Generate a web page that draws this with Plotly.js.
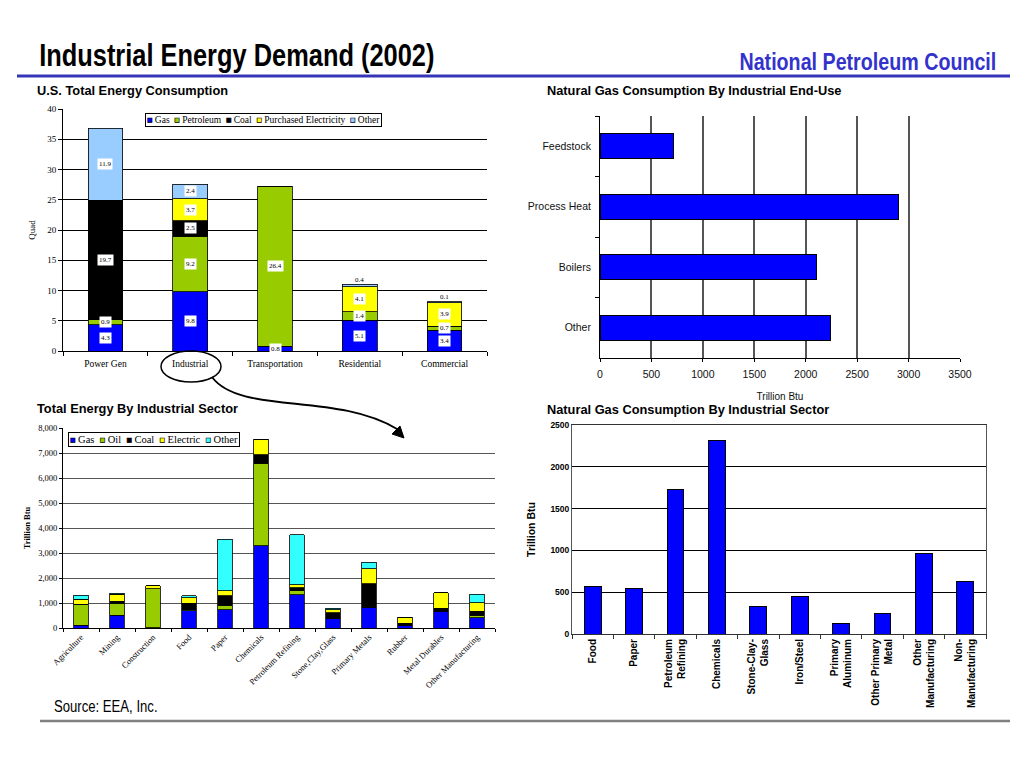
<!DOCTYPE html>
<html>
<head>
<meta charset="utf-8">
<script src="https://cdn.plot.ly/plotly-3.0.1.min.js"></script>
<style>html,body{margin:0;padding:0;background:#fff;}#chart{width:1024px;height:768px;}</style>
</head>
<body>
<div id="chart"></div>
<script>
// ---------- DATA ----------
const sectors = ['Power Gen', 'Industrial', 'Transportation', 'Residential', 'Commercial'];
const usGas = [4.3, 9.8, 0.8, 5.1, 3.4];
const usPetroleum = [0.9, 9.2, 26.4, 1.4, 0.7];
const usCoal = [19.7, 2.5, 0, 0, 0];
const usElectricity = [0, 3.7, 0, 4.1, 3.9];
const usOther = [11.9, 2.4, 0, 0.4, 0.1];

const endUses = ['Feedstock', 'Process Heat', 'Boilers', 'Other'];
const endUseGas = [715, 2900, 2100, 2240];

const industries = ['Agriculture', 'Mining', 'Construction', 'Food', 'Paper', 'Chemicals',
  'Petroleum Refining', 'Stone,Clay,Glass', 'Primary Metals', 'Rubber', 'Metal Durables', 'Other Manufacturing'];
const indGas = [110, 510, 20, 700, 740, 3300, 1340, 380, 840, 110, 670, 410];
const indOil = [820, 490, 1560, 30, 180, 3300, 150, 20, 30, 10, 20, 100];
const indCoal = [20, 80, 0, 270, 380, 330, 130, 210, 910, 80, 110, 170];
const indElectric = [210, 270, 110, 220, 200, 620, 110, 130, 590, 230, 620, 340];
const indOther = [150, 40, 10, 80, 2060, 0, 2010, 60, 260, 0, 0, 330];

const gasSectors = ['Food', 'Paper', 'Petroleum<br>Refining', 'Chemicals', 'Stone-Clay-<br>Glass', 'Iron/Steel',
  'Primary<br>Aluminum', 'Other Primary<br>Metal', 'Other<br>Manufacturing', 'Non-<br>Manufacturing'];
const gasSectorValues = [570, 550, 1730, 2320, 330, 450, 130, 240, 960, 630];

// ---------- STYLE ----------
const SERIF = 'Liberation Serif, Times New Roman, serif';
const SANS = 'Liberation Sans, Arial, sans-serif';
const W = 1024, H = 768;
const px = v => v / W;
const py = v => 1 - v / H;
const outline = {color: '#000', width: 0.8};

const traces = [];
// Chart 1
const usSeries = [
  ['Gas', usGas, '#0000ff'],
  ['Petroleum', usPetroleum, '#99cc00'],
  ['Coal', usCoal, '#000000'],
  ['Purchased Electricity', usElectricity, '#ffff00'],
  ['Other', usOther, '#99ccff']
];
usSeries.forEach(([name, vals, col]) => {
  traces.push({type: 'bar', name: name, x: sectors, y: vals, xaxis: 'x', yaxis: 'y',
    marker: {color: col, line: outline}, showlegend: false});
});
// Chart 2
traces.push({type: 'bar', orientation: 'h', x: endUseGas, y: endUses, xaxis: 'x2', yaxis: 'y2',
  marker: {color: '#0000ff', line: {color: '#000', width: 1}}, showlegend: false});
// Chart 3
const indSeries = [
  ['Gas', indGas, '#0000ff'],
  ['Oil', indOil, '#99cc00'],
  ['Coal', indCoal, '#000000'],
  ['Electric', indElectric, '#ffff00'],
  ['Other', indOther, '#33ffff']
];
indSeries.forEach(([name, vals, col]) => {
  traces.push({type: 'bar', name: name, x: industries, y: vals, xaxis: 'x3', yaxis: 'y3',
    marker: {color: col, line: outline}, showlegend: false});
});
// Chart 4
traces.push({type: 'bar', x: gasSectors, y: gasSectorValues, xaxis: 'x4', yaxis: 'y4',
  marker: {color: '#0000ff', line: {color: '#000', width: 1}}, showlegend: false});

// data labels chart 1 (derived from data)
const annotations = [];
sectors.forEach((s, i) => {
  let base = 0;
  const total = usSeries.reduce((a, sr) => a + sr[1][i], 0);
  usSeries.forEach((sr) => {
    const v = sr[1][i];
    if (v > 0) {
      const isTop = Math.abs(base + v - total) < 1e-9;
      if (v < 0.5 && isTop) {
        annotations.push({x: s, y: total + 0.75, xref: 'x', yref: 'y', text: v.toFixed(1), showarrow: false,
          font: {family: SERIF, size: 7, color: '#000'}});
      } else {
        annotations.push({x: s, y: base + v / 2, xref: 'x', yref: 'y', text: v.toFixed(1), showarrow: false,
          bgcolor: '#fff', borderpad: 1, font: {family: SERIF, size: 7, color: '#000'}});
      }
    }
    base += v;
  });
});

// compact legends built from the series definitions
const NB = '\u00a0';
function legendText(series) {
  return series.map(([n, , c]) =>
    '<span style="font-size:9px;color:' + c + ';stroke:#000;stroke-width:0.6px">■</span>' + NB + n
  ).join(NB + NB);
}
[[usSeries, 145, 113, 9.5], [indSeries, 68, 432, 10.5]].forEach(([ser, lx, ly, fs]) => {
  annotations.push({x: px(lx), y: py(ly), xref: 'paper', yref: 'paper', xanchor: 'left', yanchor: 'top',
    showarrow: false, align: 'left', text: legendText(ser), bgcolor: '#fff', bordercolor: '#000',
    borderwidth: 1, borderpad: 1, font: {family: SERIF, size: fs, color: '#000'}});
});

// text
const narrowIdx = [];
const txt = (x, y, t, font, anchor, narrow) => {
  if (narrow) narrowIdx.push([annotations.length, anchor || 'left']);
  annotations.push({x: px(x), y: py(y), xref: 'paper', yref: 'paper', text: t,
    showarrow: false, xanchor: anchor || 'left', yanchor: 'middle', font: font});
};
txt(37, 56, '<b>Industrial Energy Demand (2002)</b>', {family: SANS, size: 31, color: '#000'}, 'left', true);
txt(998, 62, '<b>National Petroleum Council</b>', {family: SANS, size: 24, color: '#3333cc'}, 'right', true);
txt(35, 90, '<b>U.S. Total Energy Consumption</b>', {family: SANS, size: 12.8, color: '#000'});
txt(545, 90, '<b>Natural Gas Consumption By Industrial End-Use</b>', {family: SANS, size: 12.8, color: '#000'});
txt(35, 408, '<b>Total Energy By Industrial Sector</b>', {family: SANS, size: 12.8, color: '#000'});
txt(545, 409, '<b>Natural Gas Consumption By Industrial Sector</b>', {family: SANS, size: 12.8, color: '#000'});
txt(52, 706, 'Source: EEA, Inc.', {family: SANS, size: 16, color: '#000'}, 'left', true);

// arrow shapes
const P = (x, y) => px(x) + ',' + py(y);
const shapes = [
  {type: 'line', xref: 'paper', yref: 'paper', x0: px(17), x1: px(1010), y0: py(76), y1: py(76),
    line: {color: '#3535b8', width: 3}},
  {type: 'line', xref: 'paper', yref: 'paper', x0: px(40), x1: px(1010), y0: py(721), y1: py(721),
    line: {color: '#808080', width: 2.5}},
  {type: 'circle', xref: 'paper', yref: 'paper', x0: px(161), x1: px(221), y0: py(382), y1: py(351),
    line: {color: '#000', width: 1.5}},
  {type: 'path', xref: 'paper', yref: 'paper',
    path: 'M' + P(212, 377) + ' C' + P(240, 415) + ' ' + P(335, 392) + ' ' + P(397, 429),
    line: {color: '#000', width: 1.8}},
  {type: 'path', xref: 'paper', yref: 'paper',
    path: 'M' + P(404, 438) + ' L' + P(400, 426) + ' L' + P(392, 434) + ' Z',
    fillcolor: '#000', line: {color: '#000', width: 1}}
];

const layout = {
  width: W, height: H,
  margin: {l: 0, r: 0, t: 0, b: 0},
  paper_bgcolor: '#fff', plot_bgcolor: '#fff',
  barmode: 'stack', bargap: 0.59,
  showlegend: false,
  font: {family: SANS, color: '#000'},
  // chart 1
  xaxis: {domain: [px(63), px(487)], anchor: 'y', showline: true, linecolor: '#000', linewidth: 1,
    ticks: 'outside', tickson: 'boundaries', ticklen: 4, tickcolor: '#000', showgrid: false,
    ticklabelstandoff: 4, tickfont: {family: SERIF, size: 9.5, color: '#000'}},
  yaxis: {domain: [py(351), py(109)], anchor: 'x', range: [0, 40], dtick: 5, showline: true, linecolor: '#000',
    ticks: 'outside', ticklen: 4, tickcolor: '#000', gridcolor: '#000', gridwidth: 1, zeroline: false,
    tickfont: {family: SERIF, size: 9, color: '#000'},
    title: {text: 'Quad', font: {family: SERIF, size: 9, color: '#000'}, standoff: 10}},
  // chart 2
  xaxis2: {domain: [px(600), px(960)], anchor: 'y2', range: [0, 3500], dtick: 500, showline: true,
    linecolor: '#000', ticks: 'outside', ticklen: 3, tickcolor: '#000', gridcolor: '#555', gridwidth: 2,
    zeroline: false, ticklabelstandoff: 3, tickfont: {family: SANS, size: 10.5, color: '#111'},
    title: {text: 'Trillion Btu', font: {family: SANS, size: 10, color: '#111'}, standoff: 14}},
  yaxis2: {domain: [py(358), py(116)], anchor: 'x2', autorange: 'reversed', showline: true, linecolor: '#000',
    ticks: 'outside', tickson: 'boundaries', ticklen: 4, tickcolor: '#000', showgrid: false,
    tickfont: {family: SANS, size: 10.5, color: '#111'}, ticklabelstandoff: 6},
  // chart 3
  xaxis3: {domain: [px(63), px(495)], anchor: 'y3', showline: true, linecolor: '#000', ticks: 'outside',
    tickson: 'boundaries', ticklen: 3, tickcolor: '#000', showgrid: false, tickangle: -45,
    tickfont: {family: SERIF, size: 8.5, color: '#000'}},
  yaxis3: {domain: [py(628), py(428)], anchor: 'x3', range: [0, 8000], dtick: 1000, tickformat: ',',
    showline: true, linecolor: '#000', ticks: 'outside', ticklen: 3, tickcolor: '#000',
    gridcolor: '#555', gridwidth: 1, zeroline: false,
    tickfont: {family: SERIF, size: 8.5, color: '#000'},
    title: {text: '<b>Trillion Btu</b>', font: {family: SERIF, size: 8.5, color: '#000'}, standoff: 6}},
  // chart 4
  xaxis4: {domain: [px(572), px(986)], anchor: 'y4', showline: true, linecolor: '#333', mirror: true,
    ticks: 'outside', tickson: 'boundaries', ticklen: 4, tickcolor: '#333', showgrid: false, tickangle: -90,
    tickfont: {family: SANS, size: 10, color: '#000', weight: 'bold'}},
  yaxis4: {domain: [py(634), py(425)], anchor: 'x4', range: [0, 2500], dtick: 500, showline: true,
    linecolor: '#555', mirror: true, ticks: '', gridcolor: '#000', gridwidth: 1, zeroline: false,
    tickfont: {family: SANS, size: 8.5, color: '#000', weight: 'bold'},
    title: {text: '<b>Trillion Btu</b>', font: {family: SANS, size: 10.5, color: '#000'}, standoff: 12}},
  annotations: annotations,
  shapes: shapes
};

const gd = document.getElementById('chart');
Plotly.newPlot(gd, traces, layout, {displayModeBar: false, staticPlot: true}).then(() => {
  // emulate a narrow (condensed) typeface for the headline texts
  narrowIdx.forEach(([i, anchor]) => {
    const t = gd.querySelector('.annotation[data-index="' + i + '"] text.annotation-text');
    if (t) {
      t.style.transformBox = 'fill-box';
      t.style.transformOrigin = (anchor === 'right' ? '100%' : '0%') + ' 50%';
      t.style.transform = 'scaleX(0.82)';
    }
  });
});
</script>
</body>
</html>
